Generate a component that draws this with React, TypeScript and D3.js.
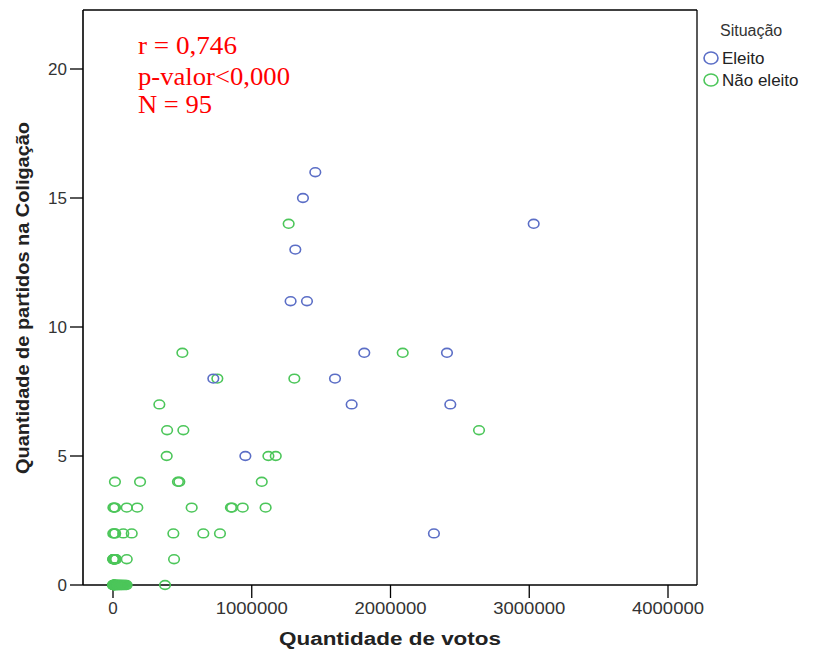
import React from "react";
import * as d3 from "d3";

// Eleito (elected)
const eleitoVotos = [1458000, 1369000, 3032000, 1314000, 1280000, 1398000, 1811000, 2407000, 1600000, 723000, 1720000, 2431000, 954000, 2313000];
const eleitoPartidos = [16, 15, 14, 13, 11, 11, 9, 9, 8, 8, 7, 7, 5, 2];

// Não eleito (not elected)
const naoEleitoVotos = [
  1266000,
  500000, 2088000,
  752000, 1307000,
  334000,
  390000, 507000, 2638000,
  387000, 1120000, 1173000,
  14000, 195000, 468000, 478000, 1072000,
  3000, 8000, 15000, 99000, 175000, 567000, 850000, 858000, 935000, 1100000,
  2000, 9000, 16000, 74000, 135000, 435000, 651000, 771000,
  1000, 2500, 4000, 6000, 8000, 10000, 12000, 15000, 18000, 22000, 99000, 440000,
  500, 1200, 2000, 2800, 3500, 4300, 5100, 6000, 7200, 8500, 9800, 11000, 12500, 14000, 16000, 18000,
  20000, 23000, 26000, 29000, 32000, 36000, 40000, 44000, 48000, 53000, 58000, 63000, 69000, 75000,
  82000, 90000, 98000, 375000,
];
const naoEleitoPartidos = [
  14,
  9, 9,
  8, 8,
  7,
  6, 6, 6,
  5, 5, 5,
  4, 4, 4, 4, 4,
  3, 3, 3, 3, 3, 3, 3, 3, 3, 3,
  2, 2, 2, 2, 2, 2, 2, 2,
  1, 1, 1, 1, 1, 1, 1, 1, 1, 1, 1, 1,
  0, 0, 0, 0, 0, 0, 0, 0, 0, 0, 0, 0, 0, 0, 0, 0,
  0, 0, 0, 0, 0, 0, 0, 0, 0, 0, 0, 0, 0, 0,
  0, 0, 0, 0,
];

const xTicks = [0, 1000000, 2000000, 3000000, 4000000];
const yTicks = [0, 5, 10, 15, 20];
const statLines = ["r = 0,746", "p-valor<0,000", "N = 95"];

const BLUE = "#5b6ec6";
const GREEN = "#4cc65a";

export default function App() {
  const left = 83, right = 697, top = 10, bottom = 585;
  const x = d3.scaleLinear().domain([0, 4000000]).range([113, 668]);
  const y = d3.scaleLinear().domain([0, 20]).range([585, 69]);
  const sans = "'Liberation Sans', Arial, sans-serif";

  const eleito = eleitoVotos.map((v, i) => ({ v, p: eleitoPartidos[i] }));
  const naoEleito = naoEleitoVotos.map((v, i) => ({ v, p: naoEleitoPartidos[i] }));

  const statWidths = [99, 152, 74];
  const statBaselines = [54, 85, 113];

  return (
    <svg
      width={814}
      height={652}
      style={{ position: "absolute", left: 0, top: 0, background: "#fff" }}
    >
      <rect width={814} height={652} fill="#fff" />
      {/* frame */}
      <line x1={left} x2={right} y1={top} y2={top} stroke="#000" strokeWidth={1.3} />
      <line x1={right} x2={right} y1={top} y2={bottom} stroke="#000" strokeWidth={1.3} />
      <line x1={left} x2={left} y1={top} y2={bottom} stroke="#000" strokeWidth={1.6} />
      <line x1={left} x2={right} y1={bottom} y2={bottom} stroke="#000" strokeWidth={1.6} />

      {/* y axis ticks */}
      {yTicks.map((t) => (
        <g key={"y" + t}>
          <line x1={70} x2={left} y1={y(t)} y2={y(t)} stroke="#000" strokeWidth={1.3} />
          <text
            x={67}
            y={y(t)}
            dy="0.36em"
            textAnchor="end"
            fontFamily={sans}
            fontSize={17}
            fill="#333"
          >
            {t}
          </text>
        </g>
      ))}

      {/* x axis ticks */}
      {xTicks.map((t) => (
        <g key={"x" + t}>
          <line x1={x(t)} x2={x(t)} y1={bottom} y2={598} stroke="#000" strokeWidth={1.3} />
          <text
            x={x(t)}
            y={614}
            textAnchor="middle"
            fontFamily={sans}
            fontSize={17}
            fill="#333"
            textLength={t === 0 ? undefined : 72}
            lengthAdjust="spacingAndGlyphs"
          >
            {t}
          </text>
        </g>
      ))}

      {/* axis titles */}
      <text
        x={390}
        y={645}
        textAnchor="middle"
        fontFamily={sans}
        fontWeight="bold"
        fontSize={18}
        fill="#222"
        textLength={222}
        lengthAdjust="spacingAndGlyphs"
      >
        Quantidade de votos
      </text>
      <text
        transform="translate(29,298) rotate(-90)"
        textAnchor="middle"
        fontFamily={sans}
        fontWeight="bold"
        fontSize={18}
        fill="#222"
        textLength={352}
        lengthAdjust="spacingAndGlyphs"
      >
        Quantidade de partidos na Coligação
      </text>

      {/* points */}
      {naoEleito.map((d, i) => (
        <ellipse
          key={"n" + i}
          cx={x(d.v)}
          cy={y(d.p)}
          rx={5.3}
          ry={4.4}
          fill="none"
          stroke={GREEN}
          strokeWidth={1.6}
        />
      ))}
      {eleito.map((d, i) => (
        <ellipse
          key={"e" + i}
          cx={x(d.v)}
          cy={y(d.p)}
          rx={5.3}
          ry={4.4}
          fill="none"
          stroke={BLUE}
          strokeWidth={1.6}
        />
      ))}

      {/* statistics */}
      {statLines.map((s, i) => (
        <text
          key={s}
          x={138}
          y={statBaselines[i]}
          fontFamily="'Liberation Serif', 'Times New Roman', serif"
          fontSize={25}
          fill="#ff0000"
          textLength={statWidths[i]}
          lengthAdjust="spacingAndGlyphs"
        >
          {s}
        </text>
      ))}

      {/* legend */}
      <text x={720} y={36} fontFamily={sans} fontSize={16} fill="#333">
        Situação
      </text>
      <ellipse cx={711} cy={58} rx={7} ry={6} fill="none" stroke={BLUE} strokeWidth={1.6} />
      <text x={722} y={64} fontFamily={sans} fontSize={17} fill="#222">
        Eleito
      </text>
      <ellipse cx={711} cy={80} rx={7} ry={6} fill="none" stroke={GREEN} strokeWidth={1.6} />
      <text x={722} y={86} fontFamily={sans} fontSize={17} fill="#222">
        Não eleito
      </text>
    </svg>
  );
}
